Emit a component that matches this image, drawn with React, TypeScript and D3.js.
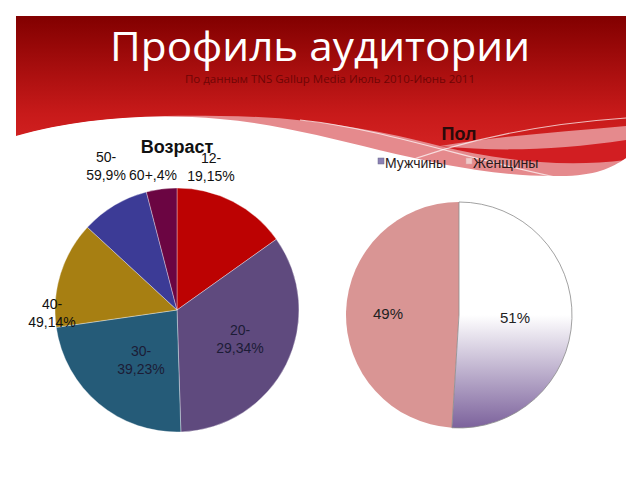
import React from "react";
import * as d3 from "d3";

const ageCategories = ["12-19", "20-29", "30-39", "40-49", "50-59", "60+"];
const ageValues = [15, 34, 23, 14, 9, 4];
const ageColors = ["#bc0202", "#5f4a7e", "#255b78", "#a77f12", "#3c3b96", "#6b0542"];
const genderCategories = ["Мужчины", "Женщины"];
const genderValues = [51, 49];

const titleText = "Профиль аудитории";
const subtitleText = "По данным  TNS Gallup Media Июль 2010-Июнь 2011";
const ageTitle = "Возраст";
const genderTitle = "Пол";

// layout: label anchor positions (centre x, first-line baseline y)
const ageLabelPos: [number, number][] = [
  [211, 163],
  [240, 335],
  [141, 356],
  [52, 309],
  [106, 162],
  [153, 180],
];

const FONT = "'Liberation Sans', Arial, sans-serif";

function splitLabel(cat: string, v: number): string[] {
  const i = cat.indexOf("-");
  if (i < 0) return [`${cat},${v}%`];
  return [cat.slice(0, i + 1), `${cat.slice(i + 1)},${v}%`];
}

export default function App() {
  const W = 640, H = 480;
  const ageC = { x: 177, y: 310 }, ageR = 122;
  const genC = { x: 459, y: 315 }, genR = 113;

  const pie = d3.pie<number>().sort(null).value((d) => d).startAngle(0).endAngle(2 * Math.PI);
  const ageArcs = pie(ageValues);
  const genArcs = pie(genderValues);
  const ageArc = d3.arc<d3.PieArcDatum<number>>().innerRadius(0).outerRadius(ageR);
  const genArc = d3.arc<d3.PieArcDatum<number>>().innerRadius(0).outerRadius(genR);

  const outerBottom =
    "M16,16 L626,16 L626,158 C612,168 595,176 560,176 C440,178 330,128 220,119 C150,113 80,118 16,136 Z";
  const redBottom =
    "M16,16 L626,16 L626,126 C560,132 500,136 440,146 C380,130 300,116 220,116 C140,114 70,120 16,136 Z";

  return (
    <svg width={W} height={H} viewBox={`0 0 ${W} ${H}`} style={{ display: "block", position: "absolute", left: 0, top: 0 }}>
      <defs>
        <linearGradient id="bannerGrad" x1="0" y1="16" x2="0" y2="180" gradientUnits="userSpaceOnUse">
          <stop offset="0" stopColor="#820000" />
          <stop offset="0.6" stopColor="#c81a1a" />
          <stop offset="1" stopColor="#de2a2a" />
        </linearGradient>
        <clipPath id="outerClip">
          <path d={outerBottom} />
        </clipPath>
        <linearGradient id="maleGradLocal" x1="0" y1={-genR} x2="0" y2={genR} gradientUnits="userSpaceOnUse">
          <stop offset="0" stopColor="#ffffff" />
          <stop offset="0.5" stopColor="#ffffff" />
          <stop offset="1" stopColor="#7c629c" />
        </linearGradient>
      </defs>
      <rect x={0} y={0} width={W} height={H} fill="#ffffff" />
      <g clipPath="url(#outerClip)">
        <rect x={16} y={16} width={610} height={180} rx={6} fill="#e58a8d" />
        <path d={redBottom} fill="url(#bannerGrad)" />
        <path d="M440,146 C500,160 560,168 626,160 L626,140 C560,150 500,152 440,146 Z" fill="#d21e22" />
        <path d="M300,120 C380,128 470,160 560,178" fill="none" stroke="#ffffff" strokeOpacity={0.7} strokeWidth={1.2} />
        <path d="M390,168 C460,140 540,124 626,118" fill="none" stroke="#ffffff" strokeOpacity={0.7} strokeWidth={1.2} />
      </g>

      <text x={320} y={61} textAnchor="middle" fill="#ffffff" fontFamily="'Open Sans', 'DejaVu Sans', sans-serif" fontSize={40} textLength={420} lengthAdjust="spacingAndGlyphs">
        {titleText}
      </text>
      <text x={330} y={83} textAnchor="middle" fill="#6e0505" fontFamily="'Open Sans', sans-serif" fontSize={10} textLength={290} lengthAdjust="spacingAndGlyphs">
        {subtitleText}
      </text>

      {/* Age pie */}
      <g transform={`translate(${ageC.x},${ageC.y})`}>
        {ageArcs.map((a, i) => (
          <path key={i} d={ageArc(a) || ""} fill={ageColors[i]} stroke="#ffffff" strokeOpacity={0.5} strokeWidth={0.7} />
        ))}
      </g>
      <text x={177} y={153} textAnchor="middle" fontFamily={FONT} fontWeight="bold" fontSize={18} fill="#111">
        {ageTitle}
      </text>
      {ageCategories.map((c, i) => {
        const lines = splitLabel(c, ageValues[i]);
        const [x, y] = ageLabelPos[i];
        const inside = i === 1 || i === 2;
        return (
          <text key={c} x={x} y={y} textAnchor="middle" fontFamily={FONT} fontSize={14} fill={inside ? "#1c1c36" : "#111"}>
            {lines.map((l, j) => (
              <tspan key={j} x={x} dy={j === 0 ? 0 : 18}>
                {l}
              </tspan>
            ))}
          </text>
        );
      })}

      {/* Gender pie */}
      <text x={459} y={140} textAnchor="middle" fontFamily={FONT} fontWeight="bold" fontSize={18} fill="#2a0a0a">
        {genderTitle}
      </text>
      <rect x={378} y={158} width={6} height={6} fill="#8b80b4" stroke="#6a6a8a" strokeWidth={0.5} />
      <text x={385} y={168} fontFamily={FONT} fontSize={14} fill="#2a1a1a">{genderCategories[0]}</text>
      <rect x={466} y={158} width={6} height={6} fill="#f1c9c9" stroke="#d8a8a8" strokeWidth={0.5} />
      <text x={473} y={168} fontFamily={FONT} fontSize={14} fill="#2a1a1a">{genderCategories[1]}</text>
      <g transform={`translate(${genC.x},${genC.y})`}>
        <path d={genArc(genArcs[1]) || ""} fill="#d99594" />
        <path d={genArc(genArcs[0]) || ""} fill="url(#maleGradLocal)" stroke="#8a8a8a" strokeWidth={0.8} />
      </g>
      <text x={388} y={319} textAnchor="middle" fontFamily={FONT} fontSize={15} fill="#222">{genderValues[1]}%</text>
      <text x={515} y={323} textAnchor="middle" fontFamily={FONT} fontSize={15} fill="#222">{genderValues[0]}%</text>
    </svg>
  );
}
